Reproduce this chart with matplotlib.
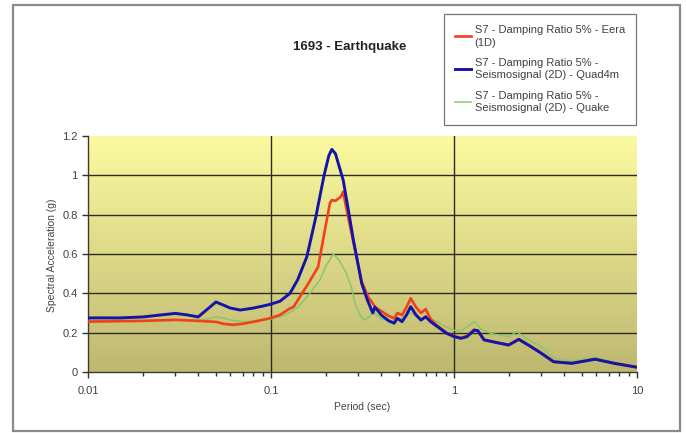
import numpy as np
import matplotlib
matplotlib.use("Agg")
import matplotlib.pyplot as plt
from matplotlib.patches import Rectangle
from matplotlib.ticker import LogLocator, FixedLocator, NullFormatter

plt.rcParams['font.family'] = ['Liberation Sans', 'DejaVu Sans']

title = "1693 - Earthquake"
xlabel = "Period (sec)"
ylabel = "Spectral Acceleration (g)"
labels = ["S7 - Damping Ratio 5% - Eera\n(1D)",
          "S7 - Damping Ratio 5% -\nSeismosignal (2D) - Quad4m",
          "S7 - Damping Ratio 5% -\nSeismosignal (2D) - Quake"]

# Eera (1D)
eera_T = [0.01, 0.02, 0.03, 0.04, 0.05, 0.055, 0.062, 0.07, 0.08, 0.09, 0.1, 0.112,
          0.125, 0.133, 0.144, 0.16, 0.181, 0.195, 0.21, 0.215, 0.225, 0.24, 0.248,
          0.252, 0.265, 0.282, 0.313, 0.34, 0.36, 0.37, 0.40, 0.44, 0.471, 0.49, 0.52,
          0.55, 0.58, 0.62, 0.66, 0.70, 0.745, 0.8, 0.91, 1.0, 1.09, 1.18, 1.29, 1.35,
          1.46, 1.7, 1.99, 2.26, 2.63, 3.0, 3.5, 4.4, 5.9, 7.5, 10]
eera_Sa = [0.256, 0.26, 0.265, 0.26, 0.255, 0.245, 0.24, 0.245, 0.255, 0.265, 0.275, 0.29,
           0.32, 0.332, 0.383, 0.45, 0.535, 0.70, 0.86, 0.874, 0.87, 0.89, 0.917,
           0.88, 0.78, 0.66, 0.46, 0.38, 0.349, 0.33, 0.31, 0.285, 0.273, 0.30, 0.29,
           0.33, 0.375, 0.33, 0.30, 0.32, 0.27, 0.24, 0.20, 0.183, 0.173, 0.183, 0.215, 0.21,
           0.165, 0.15, 0.138, 0.167, 0.13, 0.096, 0.053, 0.045, 0.066, 0.045, 0.025]

# Quad4m (2D)
quad_T = [0.01, 0.015, 0.02, 0.025, 0.03, 0.035, 0.04, 0.045, 0.05, 0.055, 0.06, 0.068,
          0.08, 0.09, 0.1, 0.112, 0.127, 0.14, 0.157, 0.175, 0.195, 0.207, 0.215, 0.225,
          0.235, 0.248, 0.265, 0.282, 0.313, 0.335, 0.351, 0.36, 0.37, 0.40, 0.44, 0.471,
          0.49, 0.52, 0.55, 0.58, 0.62, 0.66, 0.70, 0.745, 0.8, 0.91, 1.0, 1.09, 1.18,
          1.29, 1.35, 1.46, 1.7, 1.99, 2.26, 2.63, 3.0, 3.5, 4.4, 5.9, 7.5, 10]
quad_Sa = [0.275, 0.275, 0.28, 0.29, 0.298, 0.29, 0.28, 0.32, 0.356, 0.34, 0.325, 0.315,
           0.325, 0.335, 0.345, 0.36, 0.40, 0.47, 0.586, 0.78, 1.0, 1.1, 1.132, 1.11,
           1.05, 0.976, 0.82, 0.671, 0.451, 0.37, 0.324, 0.30, 0.33, 0.29, 0.26, 0.248,
           0.273, 0.256, 0.29, 0.332, 0.29, 0.264, 0.281, 0.256, 0.235, 0.197, 0.18, 0.171, 0.18,
           0.213, 0.21, 0.163, 0.15, 0.137, 0.166, 0.129, 0.095, 0.052, 0.044, 0.065, 0.044, 0.024]

# Quake (2D)
quake_T = [0.01, 0.02, 0.03, 0.04, 0.045, 0.05, 0.055, 0.06, 0.07, 0.08, 0.1, 0.12, 0.14,
           0.16, 0.185, 0.2, 0.219, 0.235, 0.259, 0.275, 0.288, 0.31, 0.326, 0.345, 0.36,
           0.40, 0.45, 0.5, 0.58, 0.65, 0.7, 0.81, 0.9, 1.0, 1.1, 1.29, 1.4, 1.6, 2.0, 2.2,
           2.5, 3.0, 3.5, 4.4, 5.9, 7.5, 10]
quake_Sa = [0.26, 0.26, 0.265, 0.262, 0.27, 0.28, 0.275, 0.265, 0.255, 0.26, 0.27, 0.29, 0.33,
            0.39, 0.468, 0.54, 0.60, 0.57, 0.50, 0.43, 0.349, 0.28, 0.264, 0.281, 0.306,
            0.27, 0.26, 0.265, 0.30, 0.27, 0.28, 0.256, 0.23, 0.213, 0.21, 0.256, 0.22, 0.195,
            0.18, 0.205, 0.17, 0.13, 0.07, 0.055, 0.075, 0.05, 0.028]

W, H = 686, 433
fig = plt.figure(figsize=(W / 100, H / 100), dpi=100)
fig.patch.set_facecolor('white')

# outer frame
fig.patches.append(Rectangle((13 / W, 1 - 431 / H), (680 - 13) / W, (431 - 5) / H,
                             transform=fig.transFigure, fill=False,
                             edgecolor='#8a8a8a', linewidth=1.6))

ax = fig.add_axes([88 / W, 1 - 372 / H, (637 - 88) / W, (372 - 136) / H])
ax.set_xscale('log')
ax.set_xlim(0.01, 10)
ax.set_ylim(0, 1.2)

# gradient background
top = np.array([252, 250, 160]) / 255
bot = np.array([190, 184, 112]) / 255
t = np.linspace(0, 1, 256)[:, None]
grad = (bot * (1 - t) + top * t)[:, None, :]
grad = np.repeat(grad, 2, axis=1)
ax.imshow(grad, extent=[0, 1, 0, 1], transform=ax.transAxes, aspect='auto',
          origin='lower', zorder=0)

for yv in [0.2, 0.4, 0.6, 0.8, 1.0]:
    ax.axhline(yv, color='#2b2b20', linewidth=1.0, zorder=1)
for xv in [0.1, 1]:
    ax.axvline(xv, color='#2b2b20', linewidth=1.0, zorder=1)

ax.plot(eera_T, eera_Sa, color='#f0401c', linewidth=1.9, zorder=3, label=labels[0])
ax.plot(quad_T, quad_Sa, color='#1414a8', linewidth=2.1, zorder=4, label=labels[1])
ax.plot(quake_T, quake_Sa, color='#86c76e', linewidth=1.1, zorder=2, label=labels[2])

for s in ['top', 'right']:
    ax.spines[s].set_visible(False)
for s in ['left', 'bottom']:
    ax.spines[s].set_color('#3a3a30')
    ax.spines[s].set_linewidth(1.0)

ax.xaxis.set_major_locator(FixedLocator([0.01, 0.1, 1, 10]))
ax.set_xticklabels(['0.01', '0.1', '1', '10'])
ax.xaxis.set_minor_locator(LogLocator(base=10, subs=np.arange(2, 10)))
ax.xaxis.set_minor_formatter(NullFormatter())
ax.set_yticks([0, 0.2, 0.4, 0.6, 0.8, 1.0, 1.2])
ax.set_yticklabels(['0', '0.2', '0.4', '0.6', '0.8', '1', '1.2'])
ax.tick_params(axis='both', which='major', direction='out', length=4, width=1,
               color='#333333', labelsize=8, labelcolor='#404040')
ax.tick_params(axis='x', which='minor', direction='out', length=3, width=1, color='#333333')
ax.tick_params(axis='x', pad=6)

fig.text(362 / W, 1 - 407 / H, xlabel, ha='center', va='center', fontsize=7.5, color='#444444')
fig.text(52 / W, 1 - 255 / H, ylabel, ha='center', va='center', rotation=90,
         fontsize=7.5, color='#444444')
fig.text(350 / W, 1 - 47 / H, title, ha='center', va='center', fontsize=9.5,
         fontweight='bold', color='#222222')

leg = fig.legend(loc='upper right', bbox_to_anchor=(636 / W, 1 - 14 / H),
                 borderaxespad=0, fontsize=8, frameon=True, fancybox=False,
                 handlelength=1.5, handletextpad=0.3, labelspacing=0.95,
                 borderpad=1.0, labelcolor='#404040')
for txt in leg.get_texts():
    txt.set_linespacing(1.3)
leg.get_frame().set_edgecolor('#555555')
leg.get_frame().set_linewidth(0.9)

fig.savefig('out.png', dpi=100)
